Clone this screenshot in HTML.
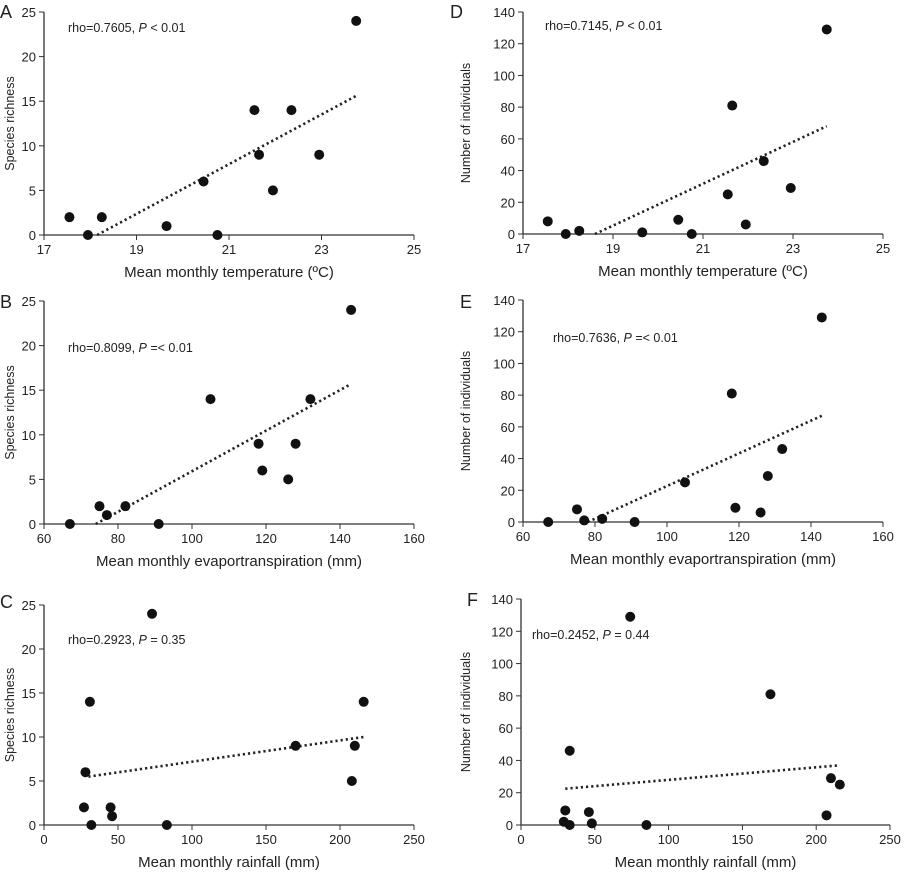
<!DOCTYPE html>
<html><head><meta charset="utf-8"><style>
body{margin:0;background:#fff;}
svg text{font-family:"Liberation Sans",Arial,sans-serif;fill:#222;}
</style></head><body>
<svg id="c" width="906" height="874" xmlns="http://www.w3.org/2000/svg"></svg>
<script>
const tempX=[17.55,17.95,18.25,19.65,20.45,20.75,21.55,21.65,21.95,22.35,22.95,23.75];
const richA=[2,0,2,1,6,0,14,9,5,14,9,24];
const indD=[8,0,2,1,9,0,25,81,6,46,29,129];
const evapX=[67,75,77,82,91,105,118,119,126,128,132,143];
const richB=[0,2,1,2,0,14,9,6,5,9,14,24];
const indE=[0,8,1,2,0,25,81,9,6,29,46,129];
const rainC=[27,28,31,32,45,46,73,83,170,208,210,216];
const richC=[2,6,14,0,2,1,24,0,9,5,9,14];
const rainF=[29,30,33,33,46,48,74,85,169,207,210,216];
const indF=[2,9,46,0,8,1,129,0,81,6,29,25];
const trendA=[[18.15,0],[23.75,15.6]];
const trendD=[[18.6,0],[23.75,68]];
const trendB=[[74,0],[143,15.7]];
const trendE=[[78,0],[143,67]];
const trendC=[[30,5.5],[216,10]];
const trendF=[[30,22.5],[216,37]];
const tempTicks=[17,19,21,23,25];
const evapTicks=[60,80,100,120,140,160];
const rainTicks=[0,50,100,150,200,250];
const richTicks=[0,5,10,15,20,25];
const indTicks=[0,20,40,60,80,100,120,140];

const svg=document.getElementById('c');
const NS='http://www.w3.org/2000/svg';
function mk(tag,attrs,parent,txt){const e=document.createElementNS(NS,tag);for(const k in attrs)e.setAttribute(k,attrs[k]);if(txt!=null)e.textContent=txt;parent.appendChild(e);return e;}

const panels=[
 {id:'a',L:'A',x0:44,x1:414,yb:235,yt:12,xt:tempTicks,yt_:richTicks,xs:tempX,ys:richA,tr:trendA,xl:'Mean monthly temperature (ºC)',yl:'Species richness',ann:['rho=0.7605, ','P',' < 0.01'],ax:68,ay:32,lx:0,ly:18,yx:10},
 {id:'d',L:'D',x0:523,x1:883,yb:234,yt:12,xt:tempTicks,yt_:indTicks,xs:tempX,ys:indD,tr:trendD,xl:'Mean monthly temperature (ºC)',yl:'Number of individuals',ann:['rho=0.7145, ','P',' < 0.01'],ax:545,ay:30,lx:450,ly:18,yx:466},
 {id:'b',L:'B',x0:44,x1:414,yb:524,yt:301,xt:evapTicks,yt_:richTicks,xs:evapX,ys:richB,tr:trendB,xl:'Mean monthly evaportranspiration (mm)',yl:'Species richness',ann:['rho=0.8099, ','P',' =< 0.01'],ax:68,ay:352,lx:0,ly:308,yx:10},
 {id:'e',L:'E',x0:523,x1:883,yb:522,yt:300,xt:evapTicks,yt_:indTicks,xs:evapX,ys:indE,tr:trendE,xl:'Mean monthly evaportranspiration (mm)',yl:'Number of individuals',ann:['rho=0.7636, ','P',' =< 0.01'],ax:553,ay:342,lx:460,ly:308,yx:466},
 {id:'c',L:'C',x0:44,x1:414,yb:825,yt:605,xt:rainTicks,yt_:richTicks,xs:rainC,ys:richC,tr:trendC,xl:'Mean monthly rainfall (mm)',yl:'Species richness',ann:['rho=0.2923, ','P',' = 0.35'],ax:68,ay:644,lx:0,ly:608,yx:10},
 {id:'f',L:'F',x0:521,x1:890,yb:825,yt:599,xt:rainTicks,yt_:indTicks,xs:rainF,ys:indF,tr:trendF,xl:'Mean monthly rainfall (mm)',yl:'Number of individuals',ann:['rho=0.2452, ','P',' = 0.44'],ax:532,ay:639,lx:467,ly:606,yx:466},
];
panels.forEach(p=>{
 const g=mk('g',{},svg);
 
 
 const xmin=p.xt[0],xmax=p.xt[p.xt.length-1],ymax=p.yt_[p.yt_.length-1];
 const X=v=>p.x0+(v-xmin)/(xmax-xmin)*(p.x1-p.x0);
 const Y=v=>p.yb-(v/ymax)*(p.yb-p.yt);
 const lab=mk('text',{x:p.lx,y:p.ly,'font-size':18},g,p.L);
 
 
 const axes=mk('path',{d:`M${p.x0},${p.yt}V${p.yb}H${p.x1}`,stroke:'#333','stroke-width':1.3,fill:'none'},g);
 
 
 p.xt.forEach(t=>{
  mk('line',{x1:X(t),x2:X(t),y1:p.yb,y2:p.yb+5,stroke:'#333'},g);
  const tx=mk('text',{x:X(t),y:p.yb+19,'font-size':13,'text-anchor':'middle'},g,t);
  
  
 });
 p.yt_.forEach(t=>{
  mk('line',{x1:p.x0-5,x2:p.x0,y1:Y(t),y2:Y(t),stroke:'#333'},g);
  const tx=mk('text',{x:p.x0-8,y:Y(t)+5,'font-size':13,'text-anchor':'end'},g,t);
  
  
 });
 const xl=mk('text',{x:(p.x0+p.x1)/2,y:p.yb+42,'font-size':15,'text-anchor':'middle'},g,p.xl);
 
 
 const ym=(p.yt+p.yb)/2;
 const yl=mk('text',{x:0,y:0,'font-size':12.5,'text-anchor':'middle',transform:`translate(${p.yx+4},${ym}) rotate(-90)`},g,p.yl);
 
 
 const an=mk('text',{x:p.ax,y:p.ay,'font-size':12.5},g);
 
 
 mk('tspan',{},an,p.ann[0]);mk('tspan',{'font-style':'italic'},an,p.ann[1]);mk('tspan',{},an,p.ann[2]);
 const tl=mk('line',{x1:X(p.tr[0][0]),y1:Y(p.tr[0][1]),x2:X(p.tr[1][0]),y2:Y(p.tr[1][1]),stroke:'#222','stroke-width':2.6,'stroke-dasharray':'2.2 3'},g);
 
 
 p.xs.forEach((v,i)=>{
  const c=mk('circle',{cx:X(v),cy:Y(p.ys[i]),r:5,fill:'#111'},g);
  
  
 });
});
</script>
</body></html>
